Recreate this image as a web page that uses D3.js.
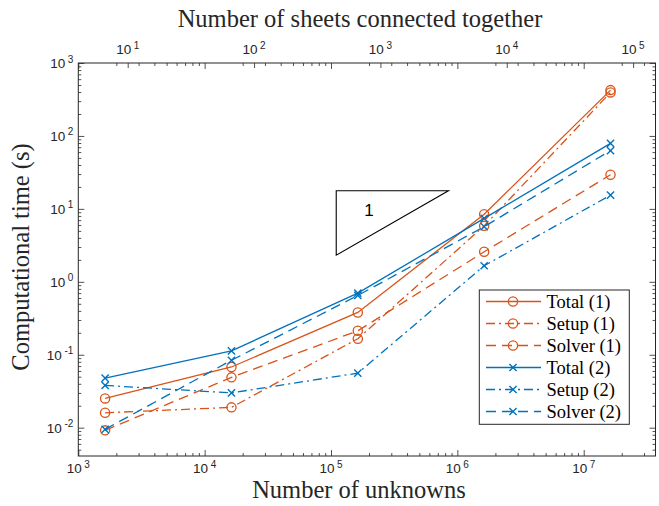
<!DOCTYPE html>
<html><head><meta charset="utf-8">
<script src="https://cdn.jsdelivr.net/npm/d3@7"></script>
<style>html,body{margin:0;padding:0;background:#fff;}svg{display:block;}</style>
</head><body>
<svg id="chart" width="659" height="506"></svg>
<script>
// ---- data ----
const unknowns = [1630, 16300, 163000, 1630000, 16300000];
const total1  = [0.0252, 0.068, 0.38, 8.45, 425];
const setup1  = [0.016, 0.019, 0.166, 5.85, 395];
const solver1 = [0.0092, 0.049, 0.213, 2.58, 29.4];
const total2  = [0.0478, 0.113, 0.70, 7.4, 79];
const setup2  = [0.038, 0.030, 0.056, 1.66, 15.4];
const solver2 = [0.0095, 0.084, 0.65, 5.7, 63];
const seriesNames = ["Total (1)", "Setup (1)", "Solver (1)", "Total (2)", "Setup (2)", "Solver (2)"];
const xTickExp = [3, 4, 5, 6, 7];
const yTickExp = [-2, -1, 0, 1, 2, 3];
const topTickExp = [1, 2, 3, 4, 5];
const slopeTriX = [1.1e5, 8.5e5];
const slopeTriY = [2.32, 17.7];
const slopeLabel = "1";
const sheetsRatio = 246;

// ---- layout ----
const L = 78.3, R = 655.5, T = 63, B = 456;
const orange = "#D95319", blue = "#0072BD";
const serif = "'Liberation Serif','Times New Roman',serif";
const sans = "'Liberation Sans',Arial,sans-serif";

const svg = d3.select("#chart");
const x = d3.scaleLog().domain([1e3, 3.7e7]).range([L, R]);
const y = d3.scaleLog().domain([Math.pow(10, -2.388), 1e3]).range([B, T]);
const xTop = d3.scaleLog().domain([1e3 / sheetsRatio, 3.7e7 / sheetsRatio]).range([L, R]);

function minors(scale) {
  const [a, b] = scale.domain();
  const out = [];
  for (let e = Math.floor(Math.log10(a)); e <= Math.ceil(Math.log10(b)); e++) {
    for (let m = 2; m <= 9; m++) {
      const v = m * Math.pow(10, e);
      if (v >= a && v <= b) out.push(v);
    }
  }
  return out;
}
const xMaj = xTickExp.map(e => Math.pow(10, e));
const yMaj = yTickExp.map(e => Math.pow(10, e));
const topMaj = topTickExp.map(e => Math.pow(10, e));

function axisTicks(axisFn, scale, vals, size, tr) {
  const g = svg.append("g").attr("transform", tr)
    .call(axisFn(scale).tickValues(vals).tickSize(size).tickFormat(""));
  g.select(".domain").remove();
  g.selectAll(".tick line").attr("stroke", "#262626").attr("stroke-width", 0.8);
  return g;
}
axisTicks(d3.axisBottom, x, xMaj, -6, `translate(0,${B})`);
axisTicks(d3.axisBottom, x, minors(x), -3, `translate(0,${B})`);
axisTicks(d3.axisTop, x, xMaj, -6, `translate(0,${T})`);
axisTicks(d3.axisTop, x, minors(x), -3, `translate(0,${T})`);
axisTicks(d3.axisTop, xTop, topMaj, -5, `translate(0,${T})`);
axisTicks(d3.axisLeft, y, yMaj, -6, `translate(${L},0)`);
axisTicks(d3.axisLeft, y, minors(y), -3, `translate(${L},0)`);
axisTicks(d3.axisRight, y, yMaj, -6, `translate(${R},0)`);
axisTicks(d3.axisRight, y, minors(y), -3, `translate(${R},0)`);

svg.append("rect").attr("x", L).attr("y", T).attr("width", R - L).attr("height", B - T)
  .attr("fill", "none").attr("stroke", "#262626").attr("stroke-width", 1);

function powLabel(px, py, exp, anchor) {
  const t = svg.append("text").attr("x", px).attr("y", py)
    .attr("font-family", sans).attr("font-size", 13.5).attr("fill", "#262626")
    .attr("text-anchor", anchor);
  t.append("tspan").text("10");
  t.append("tspan").attr("dx", 2.5).attr("dy", -5.5).attr("font-size", 10).text(String(exp));
  return t;
}
xTickExp.forEach(e => powLabel(x(Math.pow(10, e)), B + 17, e, "middle"));
topTickExp.forEach(e => powLabel(xTop(Math.pow(10, e)), T - 9, e, "middle"));
yTickExp.forEach(e => powLabel(L - 5, y(Math.pow(10, e)) + 5, e, "end"));

svg.append("text").attr("x", 360).attr("y", 27).attr("text-anchor", "middle")
  .attr("font-family", serif).attr("font-size", 24.5).attr("fill", "#262626")
  .text("Number of sheets connected together");
svg.append("text").attr("x", 359).attr("y", 498).attr("text-anchor", "middle")
  .attr("font-family", serif).attr("font-size", 24.5).attr("fill", "#262626")
  .text("Number of unknowns");
svg.append("text").attr("transform", "translate(29,257) rotate(-90)").attr("text-anchor", "middle")
  .attr("font-family", serif).attr("font-size", 24.5).attr("fill", "#262626")
  .text("Computational time (s)");

const triPts = [[slopeTriX[0], slopeTriY[1]], [slopeTriX[1], slopeTriY[1]], [slopeTriX[0], slopeTriY[0]]];
svg.append("path").attr("d", "M" + triPts.map(p => [x(p[0]), y(p[1])].join(",")).join("L") + "Z")
  .attr("fill", "none").attr("stroke", "#000").attr("stroke-width", 1.1);
svg.append("text").attr("x", x(2.0e5)).attr("y", y(9.6)).attr("dy", "0.36em")
  .attr("text-anchor", "middle").attr("font-family", sans).attr("font-size", 17).text(slopeLabel);

const series = [
  {vals: total1, color: orange, dash: null, marker: "o"},
  {vals: setup1, color: orange, dash: "9,4,2,4", marker: "o"},
  {vals: solver1, color: orange, dash: "10,6", marker: "o"},
  {vals: total2, color: blue, dash: null, marker: "x"},
  {vals: setup2, color: blue, dash: "9,4,2,4", marker: "x"},
  {vals: solver2, color: blue, dash: "10,6", marker: "x"}
];
const line = d3.line().x(d => x(d[0])).y(d => y(d[1]));
function drawMarker(g, cx, cy, s) {
  if (s.marker === "o") {
    g.append("circle").attr("cx", cx).attr("cy", cy).attr("r", 4.6)
      .attr("fill", "none").attr("stroke", s.color).attr("stroke-width", 1.3);
  } else {
    const h = 3.6;
    g.append("path").attr("d", `M${cx - h},${cy - h}L${cx + h},${cy + h}M${cx - h},${cy + h}L${cx + h},${cy - h}`)
      .attr("stroke", s.color).attr("stroke-width", 1.4).attr("fill", "none");
  }
}
series.forEach(s => {
  const pts = unknowns.map((u, i) => [u, s.vals[i]]);
  const g = svg.append("g");
  g.append("path").attr("d", line(pts)).attr("fill", "none").attr("stroke", s.color)
    .attr("stroke-width", 1.3).attr("stroke-dasharray", s.dash);
  pts.forEach(p => drawMarker(g, x(p[0]), y(p[1]), s));
});

const lg = svg.append("g");
lg.append("rect").attr("x", 479.3).attr("y", 290).attr("width", 150).attr("height", 134.3)
  .attr("fill", "#fff").attr("stroke", "#262626").attr("stroke-width", 1);
series.forEach((s, i) => {
  const ry = 301.5 + i * 22;
  lg.append("line").attr("x1", 486).attr("x2", 541).attr("y1", ry).attr("y2", ry)
    .attr("stroke", s.color).attr("stroke-width", 1.3).attr("stroke-dasharray", s.dash);
  drawMarker(lg, 513, ry, s);
  lg.append("text").attr("x", 546.5).attr("y", ry + 6).attr("font-family", serif)
    .attr("font-size", 18.5).attr("fill", "#000").text(seriesNames[i]);
});
</script>
</body></html>
